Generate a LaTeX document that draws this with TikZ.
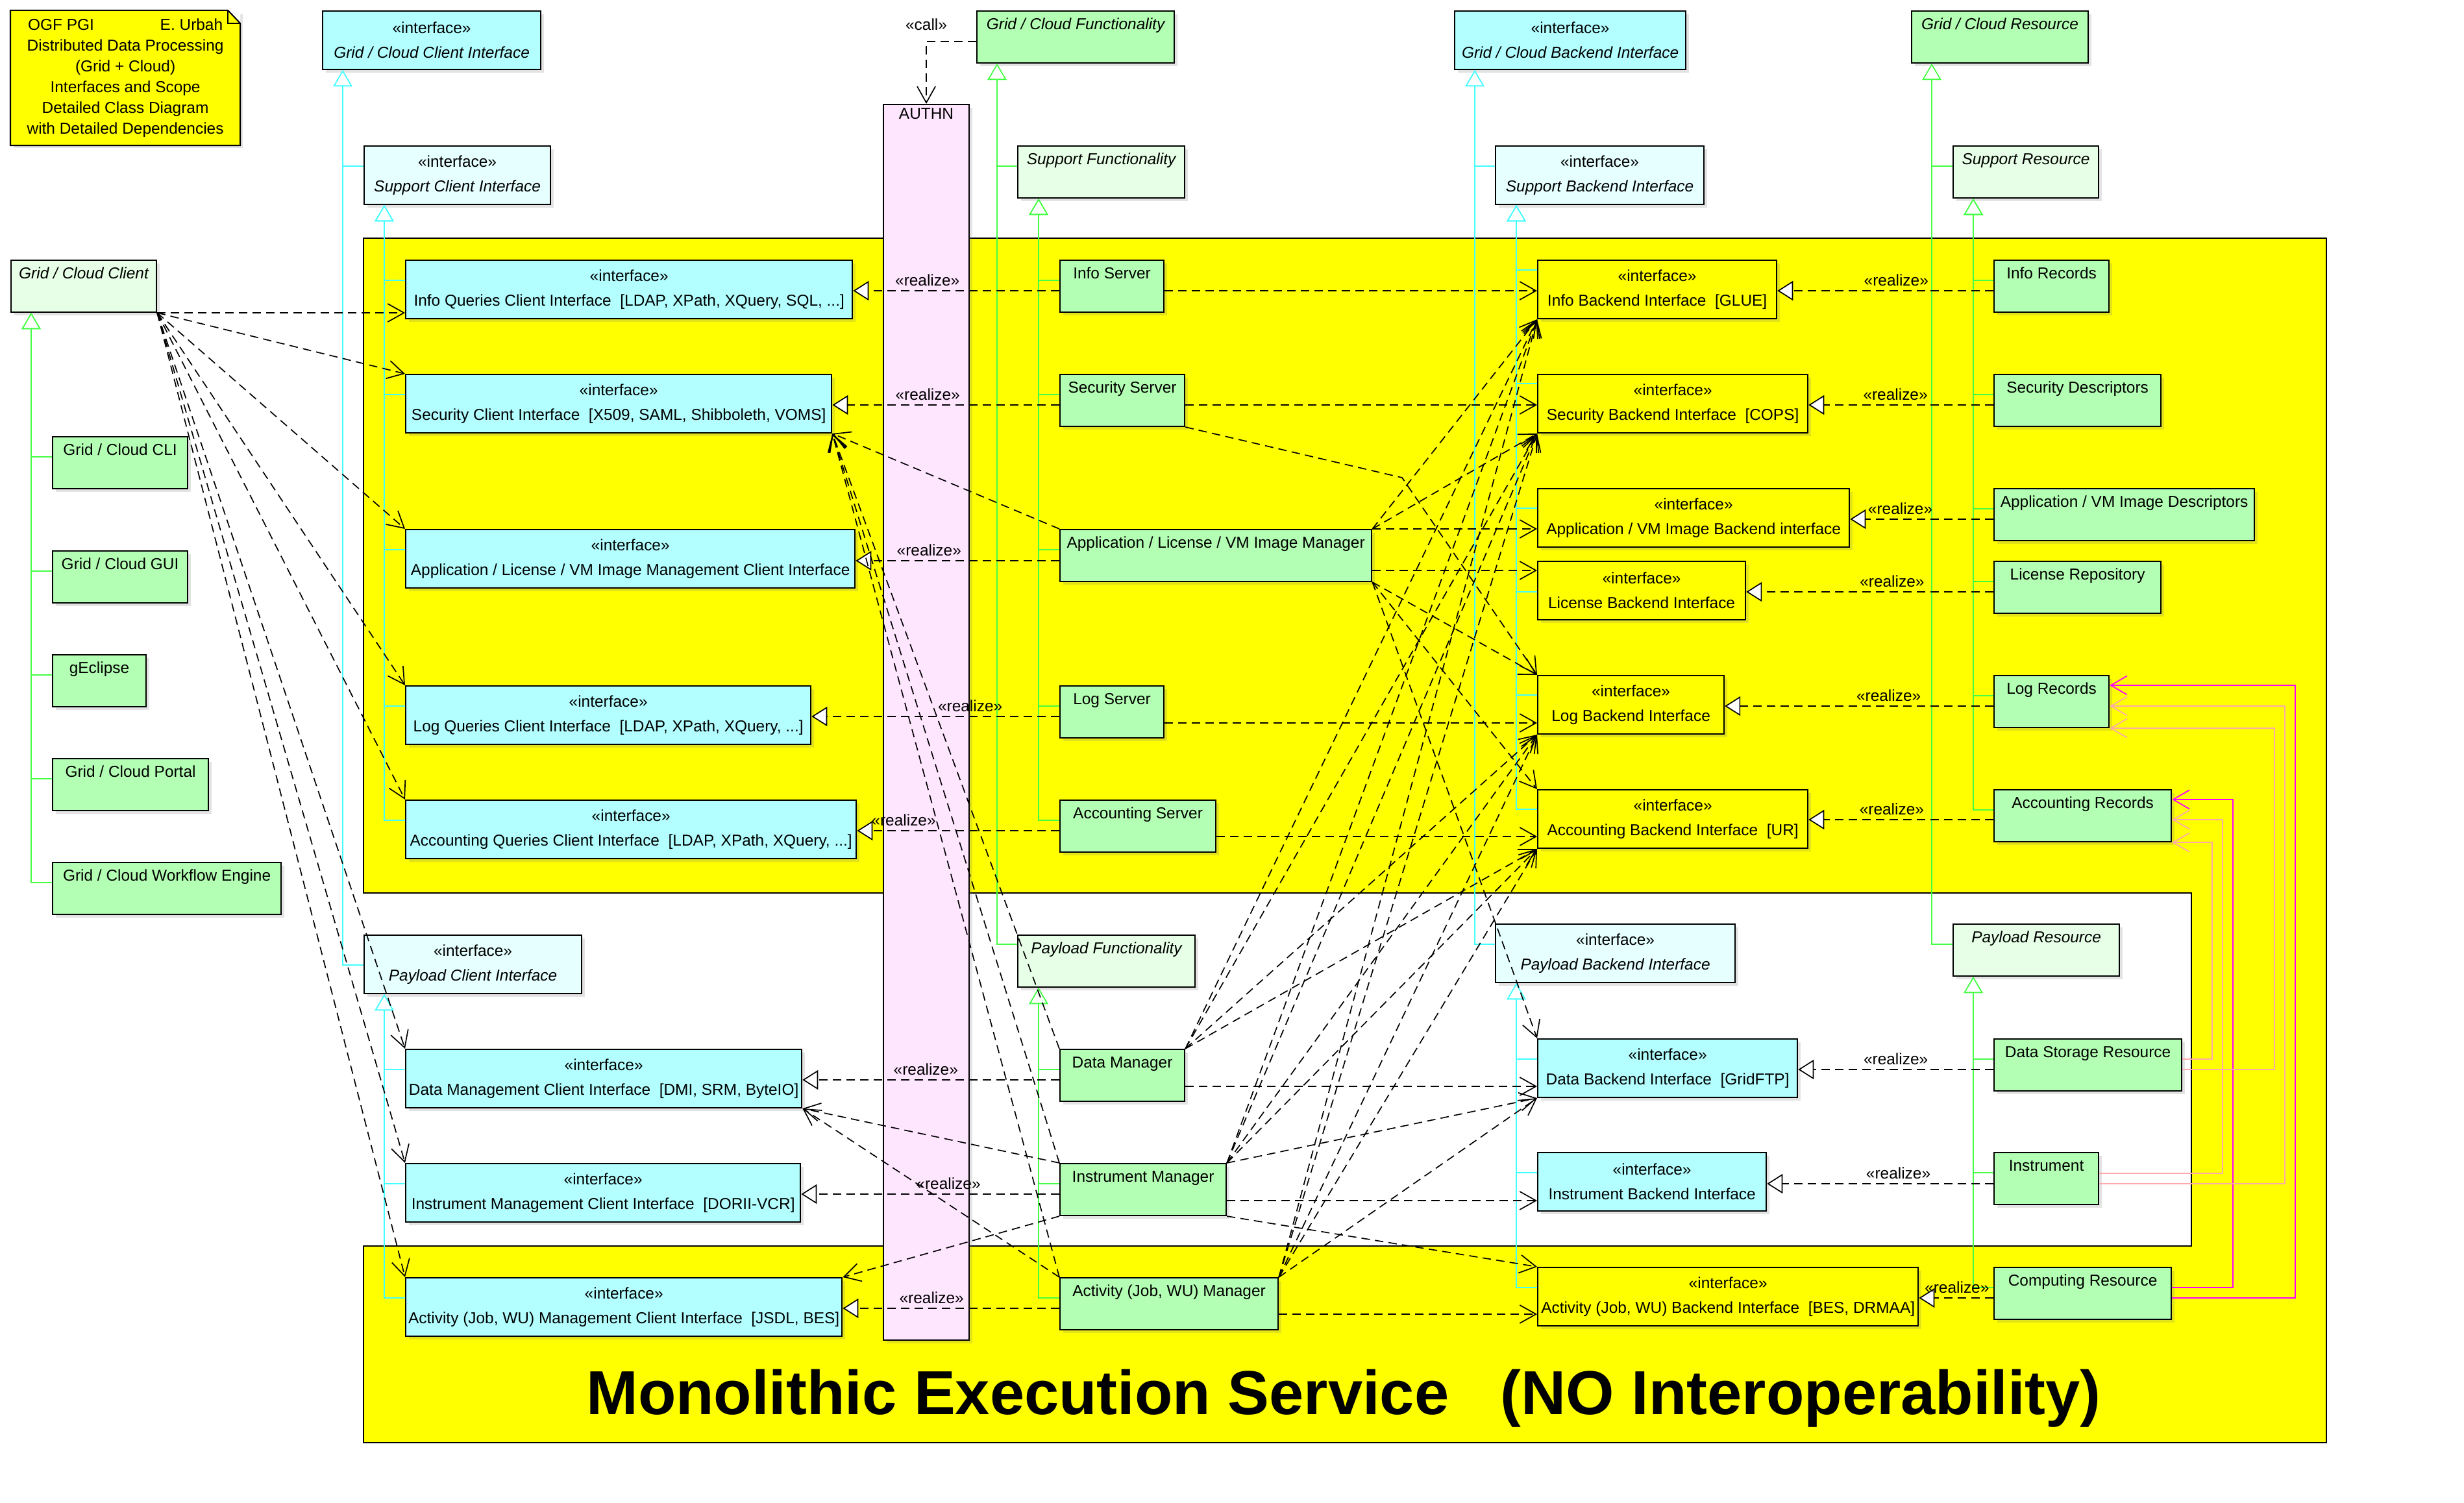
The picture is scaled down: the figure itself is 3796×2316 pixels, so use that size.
\documentclass[tikz,border=0pt]{standalone}
\usepackage{fontspec}
\setmainfont{Liberation Sans}
\usetikzlibrary{arrows.meta,shadows}

\definecolor{ifcyan}{HTML}{B3FFFF}
\definecolor{abcyan}{HTML}{E6FFFF}
\definecolor{clgreen}{HTML}{B3FFB3}
\definecolor{abgreen}{HTML}{E6FFE6}
\definecolor{authpink}{HTML}{FFE6FF}
\definecolor{svcyellow}{RGB}{255,255,0}
\definecolor{cyanline}{HTML}{40FFFF}
\definecolor{greenline}{HTML}{44FF44}
\definecolor{magline}{HTML}{FF00FF}
\definecolor{pinkline}{HTML}{FFAAAA}

\tikzset{
  every node/.style={font=\fontsize{6.95pt}{0.38cm}\selectfont},
  box/.style={draw, line width=0.57pt, anchor=north west, inner sep=0pt,
    drop shadow={shadow xshift=0.05cm, shadow yshift=-0.05cm, opacity=0.22}},
  bw/.style={minimum width=#1cm},
  iface/.style={box, fill=ifcyan, align=center, minimum height=0.9cm},
  abiface/.style={iface, fill=abcyan},
  yiface/.style={iface, fill=svcyellow},
  cls/.style={box, fill=clgreen, minimum height=0.8cm, text height=0.17cm, text depth=0.40cm},
  abcls/.style={cls, fill=abgreen},
  abstr/.style={font=\fontsize{6.95pt}{0.38cm}\selectfont\itshape},
  dep/.style={line width=0.48pt, dash pattern=on 0.13cm off 0.08cm,
    -{Straight Barb[length=0.25cm, width=0.28cm]}},
  rlz/.style={line width=0.48pt, dash pattern=on 0.13cm off 0.08cm,
    -{Triangle[fill=white, length=0.24cm, width=0.30cm]}},
  rlzlbl/.style={above, inner sep=0.06cm},
  gency/.style={draw=cyanline, line width=0.45pt, -{Triangle[fill=white, length=0.25cm, width=0.29cm]}},
  gengr/.style={gency, draw=greenline},
  magl/.style={draw=magline, line width=0.5pt, -{Straight Barb[length=0.25cm, width=0.29cm]}},
  pinkl/.style={magl, draw=pinkline},
  ttl/.style={font=\fontsize{27.2pt}{30pt}\selectfont\bfseries}
}

\begin{document}
\begin{tikzpicture}[x=0.01cm, y=-0.01cm]
  \useasboundingbox (0,0) rectangle (3796,2316);

  % monolithic service area
  \draw[line width=0.57pt, fill=svcyellow] (560,367) -- (3584,367) -- (3584,2223) -- (560,2223)
    -- (560,1920) -- (3376,1920) -- (3376,1376) -- (560,1376) -- cycle;
  \node[ttl, anchor=base] (ttl) at (2070,2179) {Monolithic Execution Service\ \ \ (NO Interoperability)};

  % note
  \node[box, draw=none, fill=svcyellow, align=center, minimum width=3.52cm, minimum height=2.06cm,
    font=\fontsize{6.95pt}{0.32cm}\selectfont] (note) at (16,16)
    {\makebox[3cm]{OGF PGI\hfill E. Urbah}\\Distributed Data Processing\\(Grid + Cloud)\\Interfaces and Scope\\Detailed Class Diagram\\with Detailed Dependencies};
  \fill[white] ([xshift=-0.19cm]note.north east) -- (note.north east) -- ([yshift=-0.2cm]note.north east) -- cycle;
  \draw[line width=0.57pt] (note.north west) -- ([xshift=-0.19cm]note.north east) -- ([yshift=-0.2cm]note.north east)
    -- (note.south east) -- (note.south west) -- cycle;
  \draw[line width=0.57pt] ([xshift=-0.19cm]note.north east) |- ([yshift=-0.2cm]note.north east);

  % authentication
  \node[box, fill=authpink, minimum width=1.32cm, minimum height=19.03cm,
    label={[anchor=north, inner sep=0.06cm]north:AUTHN}] (authn) at (1360,160) {};

  % top level
  \node[abiface, bw=3.36, fill=ifcyan] (gcci) at (496,16) {«interface»\\\textit{Grid / Cloud Client Interface}};
  \node[abiface, bw=2.87] (sci) at (560,224) {«interface»\\\textit{Support Client Interface}};
  \node[abiface, bw=3.35] (pci) at (560,1440) {«interface»\\\textit{Payload Client Interface}};
  \node[cls, abstr, bw=3.04] (gcf) at (1504,16) {Grid / Cloud Functionality};
  \node[abcls, abstr, bw=2.57] (sf) at (1567,224) {Support Functionality};
  \node[abcls, abstr, bw=2.73] (pf) at (1567,1440) {Payload Functionality};
  \node[abiface, bw=3.56, fill=ifcyan] (gcbi) at (2240,16) {«interface»\\\textit{Grid / Cloud Backend Interface}};
  \node[abiface, bw=3.21] (sbi) at (2303,224) {«interface»\\\textit{Support Backend Interface}};
  \node[abiface, bw=3.69] (pbi) at (2303,1423) {«interface»\\\textit{Payload Backend Interface}};
  \node[cls, abstr, bw=2.72] (gcr) at (2944,16) {Grid / Cloud Resource};
  \node[abcls, abstr, bw=2.24] (sr) at (3008,224) {Support Resource};
  \node[abcls, abstr, bw=2.56] (pr) at (3008,1423) {Payload Resource};

  % clients
  \node[abcls, abstr, bw=2.24] (gcc) at (16,400) {Grid / Cloud Client};
  \node[cls, bw=2.08] (cli) at (80,672) {Grid / Cloud CLI};
  \node[cls, bw=2.08] (gui) at (80,848) {Grid / Cloud GUI};
  \node[cls, bw=1.44] (geclipse) at (80,1008) {gEclipse};
  \node[cls, bw=2.40] (portal) at (80,1168) {Grid / Cloud Portal};
  \node[cls, bw=3.52] (wfe) at (80,1328) {Grid / Cloud Workflow Engine};

  % client interfaces
  \node[iface, bw=6.88] (iqci) at (624,400) {«interface»\\Info Queries Client Interface~~[LDAP, XPath, XQuery, SQL, ...]};
  \node[iface, bw=6.56] (seci) at (624,576) {«interface»\\Security Client Interface~~[X509, SAML, Shibboleth, VOMS]};
  \node[iface, bw=6.92] (amci) at (624,815) {«interface»\\Application / License / VM Image Management Client Interface};
  \node[iface, bw=6.24] (lqci) at (624,1056) {«interface»\\Log Queries Client Interface~~[LDAP, XPath, XQuery, ...]};
  \node[iface, bw=6.94] (aqci) at (624,1232) {«interface»\\Accounting Queries Client Interface~~[LDAP, XPath, XQuery, ...]};
  \node[iface, bw=6.10] (dmci) at (624,1616) {«interface»\\Data Management Client Interface~~[DMI, SRM, ByteIO]};
  \node[iface, bw=6.08] (imci) at (624,1792) {«interface»\\Instrument Management Client Interface~~[DORII-VCR]};
  \node[iface, bw=6.72] (acmci) at (624,1968) {«interface»\\Activity (Job, WU) Management Client Interface~~[JSDL, BES]};

  % servers and managers
  \node[cls, bw=1.60] (iserv) at (1632,400) {Info Server};
  \node[cls, bw=1.92] (sserv) at (1632,576) {Security Server};
  \node[cls, bw=4.80] (alvm) at (1632,815) {Application / License / VM Image Manager};
  \node[cls, bw=1.60] (lserv) at (1632,1056) {Log Server};
  \node[cls, bw=2.40] (aserv) at (1632,1232) {Accounting Server};
  \node[cls, bw=1.92] (dm) at (1632,1616) {Data Manager};
  \node[cls, bw=2.56] (im) at (1632,1792) {Instrument Manager};
  \node[cls, bw=3.36] (am) at (1632,1968) {Activity (Job, WU) Manager};

  % backend interfaces
  \node[yiface, bw=3.68] (ibi) at (2368,400) {«interface»\\Info Backend Interface~~[GLUE]};
  \node[yiface, bw=4.16] (sebi) at (2368,576) {«interface»\\Security Backend Interface~~[COPS]};
  \node[yiface, bw=4.80] (avbi) at (2368,752) {«interface»\\Application / VM Image Backend interface};
  \node[yiface, bw=3.20] (lbi) at (2368,864) {«interface»\\License Backend Interface};
  \node[yiface, bw=2.87] (lobi) at (2368,1040) {«interface»\\Log Backend Interface};
  \node[yiface, bw=4.16] (acbi) at (2368,1216) {«interface»\\Accounting Backend Interface~~[UR]};
  \node[iface, bw=4.00] (dbi) at (2368,1600) {«interface»\\Data Backend Interface~~[GridFTP]};
  \node[iface, bw=3.52] (inbi) at (2368,1775) {«interface»\\Instrument Backend Interface};
  \node[yiface, bw=5.86] (abi) at (2368,1952) {«interface»\\Activity (Job, WU) Backend Interface~~[BES, DRMAA]};

  % resources
  \node[cls, bw=1.77] (ir) at (3071,400) {Info Records};
  \node[cls, bw=2.57] (sd) at (3071,576) {Security Descriptors};
  \node[cls, bw=4.01] (avd) at (3071,752) {Application / VM Image Descriptors};
  \node[cls, bw=2.57] (lr) at (3071,864) {License Repository};
  \node[cls, bw=1.77] (logr) at (3071,1040) {Log Records};
  \node[cls, bw=2.73] (accr) at (3071,1216) {Accounting Records};
  \node[cls, bw=2.89] (dsr) at (3071,1600) {Data Storage Resource};
  \node[cls, bw=1.61] (instr) at (3071,1775) {Instrument};
  \node[cls, bw=2.73] (cr) at (3071,1952) {Computing Resource};

  % generalizations
  \foreach \ch in {cli,gui,geclipse,portal,wfe}
    \draw[gengr] ([yshift=-0.32cm]\ch.north west) -| ([xshift=0.32cm]gcc.south west);
  \draw[gengr] ([yshift=-0.32cm]sf.north west) -| ([xshift=0.32cm]gcf.south west);
  \draw[gengr] ([yshift=-0.15cm]pf.north west) -| ([xshift=0.32cm]gcf.south west);
  \foreach \ch in {iserv,sserv,alvm,lserv,aserv}
    \draw[gengr] ([yshift=-0.32cm]\ch.north west) -| ([xshift=0.33cm]sf.south west);
  \foreach \ch in {dm,im,am}
    \draw[gengr] ([yshift=-0.32cm]\ch.north west) -| ([xshift=0.33cm]pf.south west);
  \draw[gengr] ([yshift=-0.32cm]sr.north west) -| ([xshift=0.32cm]gcr.south west);
  \draw[gengr] ([yshift=-0.32cm]pr.north west) -| ([xshift=0.32cm]gcr.south west);
  \foreach \ch in {ir,sd,avd,lr,logr,accr}
    \draw[gengr] ([yshift=-0.32cm]\ch.north west) -| ([xshift=0.32cm]sr.south west);
  \foreach \ch in {dsr,instr,cr}
    \draw[gengr] ([yshift=-0.32cm]\ch.north west) -| ([xshift=0.32cm]pr.south west);
  \draw[gency] ([yshift=-0.32cm]sci.north west) -| ([xshift=0.32cm]gcci.south west);
  \draw[gency] ([yshift=-0.47cm]pci.north west) -| ([xshift=0.32cm]gcci.south west);
  \foreach \ch in {iqci,seci,amci,lqci,aqci}
    \draw[gency] ([yshift=-0.32cm]\ch.north west) -| ([xshift=0.32cm]sci.south west);
  \foreach \ch in {dmci,imci,acmci}
    \draw[gency] ([yshift=-0.32cm]\ch.north west) -| ([xshift=0.32cm]pci.south west);
  \draw[gency] ([yshift=-0.32cm]sbi.north west) -| ([xshift=0.32cm]gcbi.south west);
  \draw[gency] ([yshift=-0.32cm]pbi.north west) -| ([xshift=0.32cm]gcbi.south west);
  \draw[gency] ([yshift=-0.16cm]ibi.north west) -| ([xshift=0.33cm]sbi.south west);
  \draw[gency] ([yshift=-0.15cm]sebi.north west) -| ([xshift=0.33cm]sbi.south west);
  \draw[gency] ([yshift=-0.48cm]lbi.north west) -| ([xshift=0.33cm]sbi.south west);
  \foreach \ch in {avbi,lobi,acbi}
    \draw[gency] ([yshift=-0.31cm]\ch.north west) -| ([xshift=0.33cm]sbi.south west);
  \foreach \ch in {dbi,inbi,abi}
    \draw[gency] ([yshift=-0.32cm]\ch.north west) -| ([xshift=0.33cm]pbi.south west);

  % realizations
  \draw[rlz] (iserv.west |- 0,448) -- node[rlzlbl, pos=0.64] {«realize»} (iqci.east |- 0,448);
  \draw[rlz] (sserv.west |- 0,624) -- node[rlzlbl, pos=0.58] {«realize»} (seci.east |- 0,624);
  \draw[rlz] (alvm.west |- 0,864) -- node[rlzlbl, pos=0.64] {«realize»} (amci.east |- 0,864);
  \draw[rlz] (lserv.west |- 0,1104) -- node[rlzlbl, pos=0.36] {«realize»} (lqci.east |- 0,1104);
  \draw[rlz] (aserv.west |- 0,1280) -- node[rlzlbl, pos=0.77] {«realize»} (aqci.east |- 0,1280);
  \draw[rlz] (dm.west |- 0,1664) -- node[rlzlbl, pos=0.52] {«realize»} (dmci.east |- 0,1664);
  \draw[rlz] (im.west |- 0,1840) -- node[rlzlbl, pos=0.43] {«realize»} (imci.east |- 0,1840);
  \draw[rlz] (am.west |- 0,2016) -- node[rlzlbl, pos=0.59] {«realize»} (acmci.east |- 0,2016);
  \draw[rlz] (ir.west |- 0,448) -- node[rlzlbl, pos=0.45] {«realize»} (ibi.east |- 0,448);
  \draw[rlz] (sd.west |- 0,624) -- node[rlzlbl, pos=0.53] {«realize»} (sebi.east |- 0,624);
  \draw[rlz] (avd.west |- 0,800) -- node[rlzlbl, pos=0.65] {«realize»} (avbi.east |- 0,800);
  \draw[rlz] (lr.west |- 0,912) -- node[rlzlbl, pos=0.41] {«realize»} (lbi.east |- 0,912);
  \draw[rlz] (logr.west |- 0,1088) -- node[rlzlbl, pos=0.39] {«realize»} (lobi.east |- 0,1088);
  \draw[rlz] (accr.west |- 0,1263) -- node[rlzlbl, pos=0.55] {«realize»} (acbi.east |- 0,1263);
  \draw[rlz] (dsr.west |- 0,1648) -- node[rlzlbl, pos=0.50] {«realize»} (dbi.east |- 0,1648);
  \draw[rlz] (instr.west |- 0,1824) -- node[rlzlbl, pos=0.42] {«realize»} (inbi.east |- 0,1824);
  \draw[rlz] (cr.west |- 0,2000) -- node[rlzlbl, pos=0.49] {«realize»} (abi.east |- 0,2000);

  % dependencies
  \draw[dep] (gcf.west |- 0,64) -| node[pos=0.5, above=0.05cm] {«call»} (authn.north);
  \draw[dep] (gcc.south east) -- (gcc.south east -| iqci.west);
  \foreach \tgt in {seci,amci,lqci,aqci,dmci,imci,acmci}
    \draw[dep] (gcc.south east) -- (\tgt.north west);
  \draw[dep] (iserv.east |- 0,448) -- (ibi.west |- 0,448);
  \draw[dep] (sserv.east |- 0,624) -- (sebi.west |- 0,624);
  \draw[dep] (alvm.north east) -- (alvm.north east -| avbi.west);
  \draw[dep] (alvm.east |- 0,879) -- (lbi.west |- 0,879);
  \draw[dep] (lserv.east |- 0,1114) -- (lobi.west |- 0,1114);
  \draw[dep] (aserv.east |- 0,1289) -- (acbi.west |- 0,1289);
  \draw[dep] (dm.east |- 0,1674) -- (dbi.west |- 0,1674);
  \draw[dep] (im.east |- 0,1850) -- (inbi.west |- 0,1850);
  \draw[dep] (am.east |- 0,2025) -- (abi.west |- 0,2025);
  \draw[dep] (alvm.north west) -- (seci.south east);
  \foreach \tgt in {ibi,sebi}
    \draw[dep] (alvm.north east) -- (\tgt.south west);
  \foreach \tgt in {lobi,acbi,dbi}
    \draw[dep] (alvm.south east) -- (\tgt.north west);
  \draw[dep] (sserv.south east) -- (2160,736) -- (lobi.north west);
  \foreach \mgr in {dm,im,am} {
    \draw[dep] (\mgr.north west) -- (seci.south east);
    \foreach \tgt in {ibi,sebi,lobi,acbi}
      \draw[dep] (\mgr.north east) -- (\tgt.south west);
  }
  \foreach \mgr in {im,am} {
    \draw[dep] (\mgr.north west) -- (dmci.south east);
    \draw[dep] (\mgr.north east) -- (dbi.south west);
  }
  \draw[dep] (im.south west) -- (acmci.north east);
  \draw[dep] (im.south east) -- (abi.north west);

  % records
  \draw[magl] (cr.east |- 0,2000) -- (3536,2000) |- (logr.east |- 0,1056);
  \draw[magl] (cr.east |- 0,1984) -- (3440,1984) |- (accr.east |- 0,1232);
  \draw[pinkl] (dsr.east |- 0,1648) -- (3504,1648) |- (logr.south east);
  \draw[pinkl] (dsr.east |- 0,1632) -- (3408,1632) |- (accr.south east);
  \draw[pinkl] (instr.east |- 0,1824) -- (3520,1824) |- (logr.east |- 0,1088);
  \draw[pinkl] (instr.east |- 0,1808) -- (3424,1808) |- (accr.east |- 0,1263);
\end{tikzpicture}
\end{document}
